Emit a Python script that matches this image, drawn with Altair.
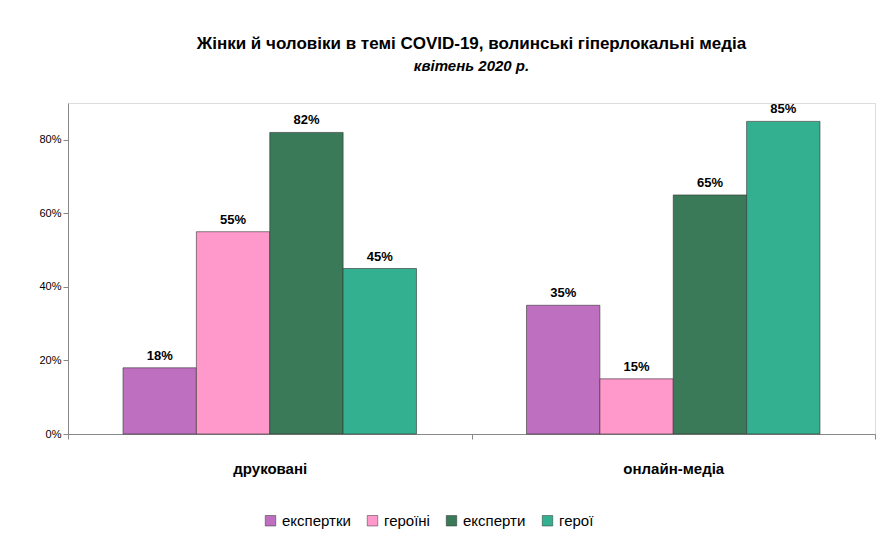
import altair as alt
import pandas as pd

categories = ["друковані", "онлайн-медіа"]
series = ["експертки", "героїні", "експерти", "герої"]
values = {
    "друковані": [18, 55, 82, 45],
    "онлайн-медіа": [35, 15, 65, 85],
}
colors = ["#BF6FBF", "#FF99CC", "#3A7A58", "#33B08F"]

rows = []
for c in categories:
    for s, v in zip(series, values[c]):
        rows.append({"cat": c, "series": s, "value": v / 100, "label": f"{v}%"})
df = pd.DataFrame(rows)

base = alt.Chart(df).encode(
    x=alt.X("cat:N", sort=categories, title=None,
            scale=alt.Scale(paddingInner=0, paddingOuter=0),
            axis=alt.Axis(labelAngle=0, labelFontSize=15, labelFontWeight="bold",
                          labelColor="black", labelPadding=22, tickBand="extent",
                          domainColor="#888", tickColor="#888", labelFont="Liberation Sans")),
    xOffset=alt.XOffset("series:N", sort=series,
                        scale=alt.Scale(paddingInner=0, paddingOuter=0.75)),
)

bars = base.mark_bar(stroke="#333", strokeWidth=0.6).encode(
    y=alt.Y("value:Q", title=None,
            scale=alt.Scale(domain=[0, 0.9]),
            axis=alt.Axis(format=".0%", values=[i / 10 for i in range(10)], grid=False,
                          labelOverlap=False, labelFontSize=11, labelColor="black",
                          domainColor="#888", tickColor="#888", labelFont="Liberation Sans")),
    color=alt.Color("series:N", sort=series, title=None,
                    scale=alt.Scale(domain=series, range=colors),
                    legend=alt.Legend(orient="none", direction="horizontal",
                                      legendX=195, legendY=410, symbolType="square",
                                      symbolSize=110, symbolStrokeWidth=0.5,
                                      labelFontSize=15, labelFont="Liberation Sans",
                                      columnPadding=14)),
)

text = base.mark_text(dy=-12, fontSize=13, fontWeight="bold", font="Liberation Sans",
                      color="black").encode(
    y="value:Q", text="label:N", detail="series:N"
)

chart = (
    (bars + text)
    .properties(
        width=807, height=331,
        autosize=alt.AutoSizeParams(type="none"),
        padding={"left": 60, "top": 95, "right": 9, "bottom": 98},
        title=alt.Title(
            "Жінки й чоловіки  в темі COVID-19, волинські  гіперлокальні  медіа",
            subtitle="квітень 2020 р.",
            fontSize=17, font="Liberation Sans", fontWeight="bold", color="black",
            subtitleFontSize=15, subtitleFontStyle="italic", subtitleFontWeight="bold",
            subtitleFont="Liberation Sans", subtitleColor="black",
            anchor="middle", offset=28, subtitlePadding=6,
        ),
    )
    .configure_view(stroke=None)
    .configure(background="white")
)

chart.save("out.html", embed_options={"renderer": "svg", "actions": False})
